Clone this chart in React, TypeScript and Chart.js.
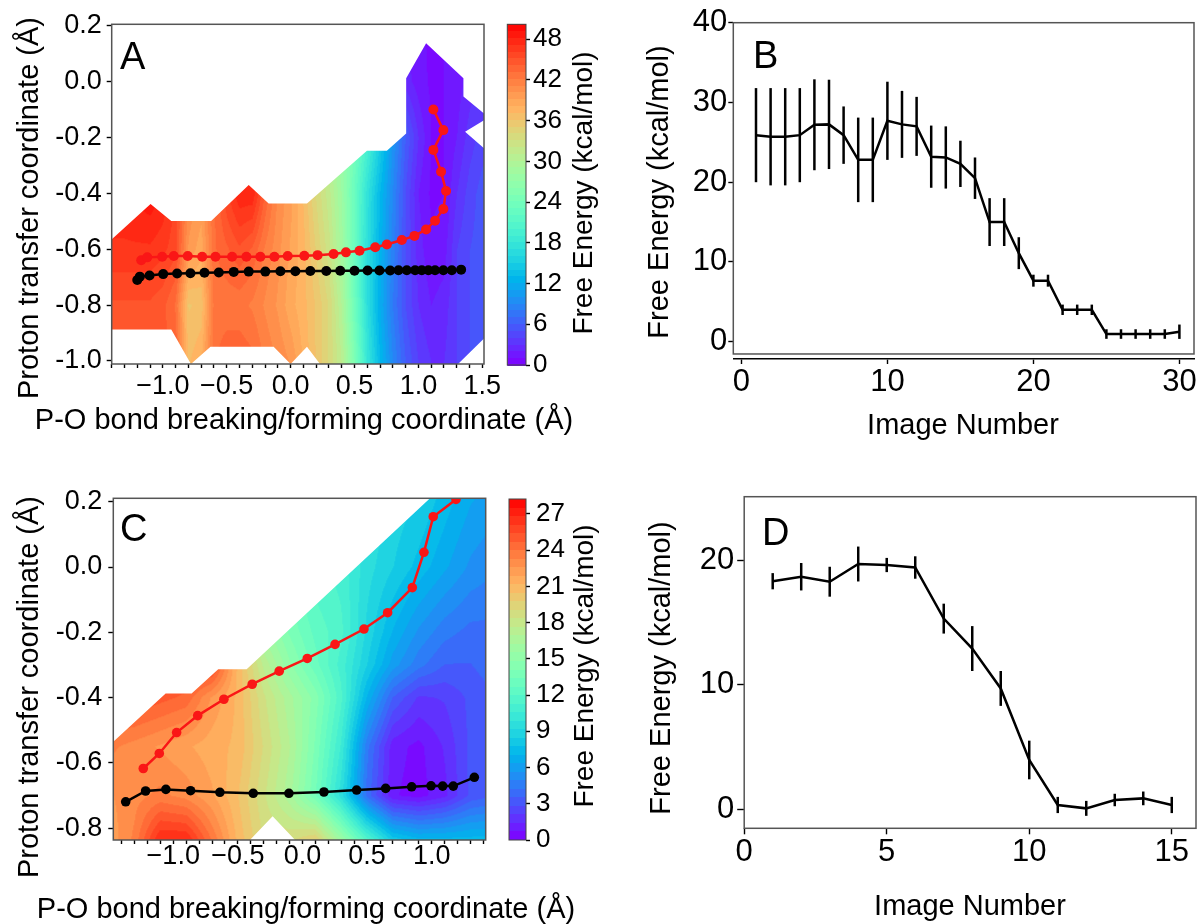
import React, { useEffect, useRef } from 'react';
import { Chart, registerables } from 'chart.js';
Chart.register(...registerables);

const W = 1200;
const H = 924;
const FONT = "'Liberation Sans', Arial, Helvetica, sans-serif";
const RED = 'rgb(250,22,22)';

// ---------------- Panel A data ----------------
const aRedX = [-1.169, -1.122, -1.005, -0.914, -0.805, -0.692, -0.588, -0.458, -0.346, -0.237, -0.127, -0.023, 0.107, 0.211, 0.336, 0.433, 0.539, 0.662, 0.753, 0.87, 0.969, 1.06, 1.13, 1.195, 1.216, 1.177, 1.117, 1.195, 1.117];
const aRedY = [-0.639, -0.629, -0.627, -0.624, -0.624, -0.627, -0.627, -0.627, -0.627, -0.627, -0.627, -0.624, -0.623, -0.621, -0.617, -0.611, -0.605, -0.593, -0.583, -0.567, -0.552, -0.529, -0.498, -0.456, -0.391, -0.322, -0.244, -0.173, -0.099];
const aBlackX = [-1.2, -1.18, -1.104, -0.997, -0.888, -0.784, -0.674, -0.562, -0.445, -0.328, -0.198, -0.08, 0.037, 0.154, 0.279, 0.388, 0.5, 0.602, 0.695, 0.779, 0.844, 0.909, 0.974, 1.026, 1.078, 1.13, 1.195, 1.261, 1.334];
const aBlackY = [-0.71, -0.698, -0.694, -0.689, -0.687, -0.686, -0.684, -0.683, -0.681, -0.68, -0.68, -0.679, -0.679, -0.678, -0.678, -0.677, -0.677, -0.676, -0.676, -0.676, -0.675, -0.675, -0.675, -0.675, -0.675, -0.675, -0.675, -0.675, -0.673];
const aGridX = [-1.4, -1.3, -1.2, -1.1, -1.0, -0.9, -0.8, -0.7, -0.6, -0.5, -0.4, -0.3, -0.2, -0.1, 0.0, 0.1, 0.2, 0.3, 0.4, 0.5, 0.6, 0.7, 0.8, 0.9, 1.0, 1.1, 1.2, 1.3, 1.4, 1.5];
const aGridY = [-1.0, -0.8, -0.6, -0.4, -0.2, 0.0, 0.2];
const aEnergyRowM10 = [45, 45, 45, 45, 44.5, 44, 37, 38, 43, 44, 44, 43.5, 42, 41, 40, 38, 36, 34, 31, 25, 18, 13, 9, 6, 4, 3, 3, 4, 5, 5.5];
const aEnergyRowM08 = [45, 45, 45, 45, 44.5, 43, 36, 36.5, 42.5, 42.5, 42.5, 42, 41, 40, 38.5, 37.5, 36, 34, 30, 23.5, 17, 12, 8, 5, 3, 2, 2.5, 4, 5, 5.5];
const aEnergyRowM06 = [47, 47, 47, 47, 46.5, 45.5, 40, 38.5, 43, 44, 45, 44, 42, 40.5, 39, 37.5, 35, 32.5, 28.5, 23, 17, 12.5, 8.5, 5, 2.5, 1.2, 1.5, 4, 5, 5.5];
const aEnergyRowM04 = [48, 48, 48.5, 49, 48, 46, 41, 40, 43, 46, 48, 48, 44, 41, 39.5, 37, 34, 31.5, 28, 23, 17.5, 13, 9, 5, 2, 0.8, 1, 3, 4.5, 5.5];
const aEnergyRowM02 = [48, 48, 48.5, 49, 48, 46, 41, 40, 43, 46, 48, 47, 43, 40, 38, 35, 32, 30, 27, 24, 20, 15, 10, 6, 3, 1, 1, 2, 3.5, 4.5];
const aEnergyRowP00 = [48, 48, 48.5, 49, 48, 46, 41, 40, 43, 46, 48, 47, 43, 40, 38, 35, 32, 30, 27, 24, 20, 15, 8, 2.5, 1.5, 0.8, 1, 1.5, 2.5, 3];
const aEnergyRowP02 = [48, 48, 48.5, 49, 48, 46, 41, 40, 43, 46, 48, 47, 43, 40, 38, 35, 32, 30, 27, 24, 20, 15, 8, 2, 1.2, 0.8, 1, 1.5, 2, 2.5];
const aEnergy = [aEnergyRowM10, aEnergyRowM08, aEnergyRowM06, aEnergyRowM04, aEnergyRowM02, aEnergyRowP00, aEnergyRowP02];
const aDomain = [[-1.45, -0.585], [-1.096, -0.438], [-0.934, -0.499], [-0.622, -0.499], [-0.328, -0.37], [-0.172, -0.436], [0.128, -0.436], [0.597, -0.247], [0.753, -0.247], [0.904, -0.185], [0.904, 0.0125], [1.06, 0.138], [1.352, 0.0125], [1.352, -0.053], [1.55, -0.127], [1.365, -0.179], [1.55, -0.253], [1.55, -0.903], [1.223, -1.05], [0.294, -1.05], [0.128, -0.949], [0.0, -1.011], [-0.133, -0.949], [-0.627, -0.949], [-0.78, -1.011], [-0.934, -0.887], [-1.45, -0.887]];
const aXTicks = [-1.4, -1.3, -1.2, -1.1, -1.0, -0.9, -0.8, -0.7, -0.6, -0.5, -0.4, -0.3, -0.2, -0.1, 0.0, 0.1, 0.2, 0.3, 0.4, 0.5, 0.6, 0.7, 0.8, 0.9, 1.0, 1.1, 1.2, 1.3, 1.4, 1.5];
const aYTicks = [-1.0, -0.8, -0.6, -0.4, -0.2, 0.0, 0.2];
const aBarTicks = [0, 6, 12, 18, 24, 30, 36, 42, 48];
const aVmax = 50.2;

// ---------------- Panel B data ----------------
const bImage = [1, 2, 3, 4, 5, 6, 7, 8, 9, 10, 11, 12, 13, 14, 15, 16, 17, 18, 19, 20, 21, 22, 23, 24, 25, 26, 27, 28, 29, 30];
const bEnergy = [25.9, 25.7, 25.7, 25.9, 27.2, 27.25, 25.9, 22.8, 22.8, 27.7, 27.25, 27.0, 23.2, 23.1, 22.3, 20.5, 15.0, 15.0, 11.1, 7.65, 7.65, 4.0, 4.0, 4.0, 0.96, 0.96, 0.96, 0.96, 0.96, 1.25];
const bError = [5.9, 6.1, 6.1, 5.9, 5.7, 5.6, 3.6, 5.3, 5.3, 4.9, 4.2, 3.7, 3.9, 3.9, 2.9, 2.6, 3.0, 3.0, 2.0, 0.75, 0.75, 0.65, 0.65, 0.65, 0.6, 0.6, 0.6, 0.6, 0.6, 0.9];
const bXTicks = [0, 10, 20, 30];
const bYTicks = [0, 10, 20, 30, 40];

// ---------------- Panel C data ----------------
const cRedX = [-1.232, -1.108, -0.974, -0.811, -0.608, -0.389, -0.18, 0.037, 0.252, 0.476, 0.659, 0.85, 0.94, 1.012, 1.188];
const cRedY = [-0.617, -0.571, -0.507, -0.455, -0.405, -0.359, -0.319, -0.28, -0.237, -0.19, -0.14, -0.063, 0.045, 0.154, 0.207];
const cBlackX = [-1.368, -1.214, -1.057, -0.866, -0.639, -0.381, -0.105, 0.166, 0.419, 0.644, 0.845, 0.995, 1.085, 1.167, 1.33];
const cBlackY = [-0.719, -0.686, -0.681, -0.685, -0.69, -0.693, -0.693, -0.689, -0.683, -0.678, -0.673, -0.67, -0.671, -0.671, -0.644];
const cGridX = [-1.5, -1.3, -1.1, -0.9, -0.7, -0.5, -0.3, -0.1, 0.1, 0.3, 0.5, 0.7, 0.9, 1.1, 1.3, 1.5];
const cGridY = [-0.84, -0.7, -0.55, -0.4, -0.3, -0.2, 0.0, 0.22];
const cEnergyRowM084 = [22, 23.5, 27, 27, 24, 21, 19, 19, 20, 16, 12, 8.5, 7.5, 7.5, 7.5, 7.5];
const cEnergyRowM070 = [22.5, 23, 23.5, 23, 22, 20.5, 18.5, 16.5, 13.5, 9.5, 4, 0.8, 0.4, 1.2, 3, 3.5];
const cEnergyRowM055 = [23.5, 23, 22.5, 22, 21.5, 21, 19, 17, 14, 10.5, 4.5, 1.0, 0.5, 1.5, 3, 3.5];
const cEnergyRowM040 = [25.5, 25.5, 25, 24.5, 22.5, 21, 18.5, 16.5, 14.5, 11.5, 7, 3.5, 2, 2.2, 3, 3.5];
const cEnergyRowM030 = [26, 26, 26, 26, 26, 21, 17.5, 15, 13, 11, 8.5, 6, 4.5, 3.5, 3.5, 4];
const cEnergyRowM020 = [26, 26, 26, 26, 26, 20, 16, 14, 12.5, 11.5, 9, 7, 5.5, 4.5, 4, 4];
const cEnergyRowP000 = [26, 26, 26, 26, 26, 20, 16, 13, 11.5, 11, 9.5, 8.5, 7.5, 6.5, 5.5, 5];
const cEnergyRowP022 = [26, 26, 26, 26, 26, 20, 16, 13, 11.5, 11, 10, 9, 8.5, 7.5, 6.5, 6];
const cEnergy = [cEnergyRowM084, cEnergyRowM070, cEnergyRowM055, cEnergyRowM040, cEnergyRowM030, cEnergyRowM020, cEnergyRowP000, cEnergyRowP022];
const cDomain = [[-1.5, -0.548], [-1.059, -0.387], [-0.858, -0.387], [-0.652, -0.313], [-0.432, -0.313], [1.094, 0.25], [1.5, 0.25], [1.5, -0.85], [-0.024, -0.85], [-0.231, -0.763], [-0.44, -0.85], [-1.5, -0.85]];
const cXTicks = [-1.4, -1.3, -1.2, -1.1, -1.0, -0.9, -0.8, -0.7, -0.6, -0.5, -0.4, -0.3, -0.2, -0.1, 0.0, 0.1, 0.2, 0.3, 0.4, 0.5, 0.6, 0.7, 0.8, 0.9, 1.0, 1.1, 1.2, 1.3, 1.4];
const cYTicks = [-0.8, -0.6, -0.4, -0.2, 0.0, 0.2];
const cBarTicks = [0, 3, 6, 9, 12, 15, 18, 21, 24, 27];
const cVmax = 28.24;

// ---------------- Panel D data ----------------
const dImage = [1, 2, 3, 4, 5, 6, 7, 8, 9, 10, 11, 12, 13, 14, 15];
const dEnergy = [18.3, 18.66, 18.26, 19.68, 19.6, 19.4, 15.3, 12.9, 9.7, 3.96, 0.35, 0.08, 0.75, 0.88, 0.35];
const dError = [0.65, 1.1, 1.2, 1.4, 0.57, 0.9, 1.2, 1.8, 1.4, 1.55, 0.65, 0.6, 0.5, 0.55, 0.65];
const dXTicks = [0, 5, 10, 15];
const dYTicks = [0, 10, 20];

// ---------------- helpers ----------------
const zip = (xs: number[], ys: number[]) => xs.map((x, i) => ({ x, y: ys[i] }));

function rainbow(f: number): number[] {
  const t = Math.max(0, Math.min(1, f));
  const r = Math.min(1, Math.abs(2 * t - 0.5));
  const g = Math.sin(Math.PI * t);
  const b = Math.cos((Math.PI * t) / 2);
  return [Math.round(r * 255), Math.round(g * 255), Math.round(b * 255)];
}

function idx(arr: number[], v: number) {
  let i = 0;
  while (i < arr.length - 2 && v > arr[i + 1]) i++;
  return i;
}

function sampleGrid(xs: number[], ys: number[], grid: number[][], x: number, y: number) {
  const i = idx(xs, x);
  const j = idx(ys, y);
  const tx = Math.max(0, Math.min(1, (x - xs[i]) / (xs[i + 1] - xs[i])));
  const ty = Math.max(0, Math.min(1, (y - ys[j]) / (ys[j + 1] - ys[j])));
  const a = grid[j][i] * (1 - tx) + grid[j][i + 1] * tx;
  const b = grid[j + 1][i] * (1 - tx) + grid[j + 1][i + 1] * tx;
  return a * (1 - ty) + b * ty;
}

function levelColor(v: number, vmax: number, levels: number) {
  const step = vmax / levels;
  const q = Math.max(0, Math.min(levels - 1, Math.floor(v / step)));
  return rainbow((q + 0.5) / levels);
}

function fieldPlugin(xs: number[], ys: number[], grid: number[][], domain: number[][], vmax: number, levels: number) {
  return {
    id: 'field',
    beforeDatasetsDraw(chart: any) {
      const { ctx, chartArea: ca, scales } = chart;
      const sx = scales.x;
      const sy = scales.y;
      const w = Math.ceil(ca.right - ca.left);
      const h = Math.ceil(ca.bottom - ca.top);
      const off = document.createElement('canvas');
      off.width = w;
      off.height = h;
      const octx = off.getContext('2d')!;
      const img = octx.createImageData(w, h);
      for (let py = 0; py < h; py++) {
        const yv = sy.getValueForPixel(ca.top + py + 0.5);
        for (let px = 0; px < w; px++) {
          const xv = sx.getValueForPixel(ca.left + px + 0.5);
          const v = sampleGrid(xs, ys, grid, xv, yv);
          const c = levelColor(v, vmax, levels);
          const k = (py * w + px) * 4;
          img.data[k] = c[0];
          img.data[k + 1] = c[1];
          img.data[k + 2] = c[2];
          img.data[k + 3] = 255;
        }
      }
      octx.putImageData(img, 0, 0);
      ctx.save();
      ctx.beginPath();
      ctx.rect(ca.left, ca.top, ca.right - ca.left, ca.bottom - ca.top);
      ctx.clip();
      ctx.beginPath();
      domain.forEach((p, k) => {
        const X = sx.getPixelForValue(p[0]);
        const Y = sy.getPixelForValue(p[1]);
        if (k === 0) ctx.moveTo(X, Y);
        else ctx.lineTo(X, Y);
      });
      ctx.closePath();
      ctx.clip();
      ctx.drawImage(off, ca.left, ca.top);
      ctx.restore();
    },
  };
}

function barPlugin(vmax: number, levels: number) {
  return {
    id: 'bar',
    beforeDatasetsDraw(chart: any) {
      const { ctx, chartArea: ca, scales } = chart;
      const sy = scales.y;
      ctx.save();
      for (let py = Math.floor(ca.top); py < Math.ceil(ca.bottom); py++) {
        const v = sy.getValueForPixel(py + 0.5);
        const c = levelColor(v, vmax, levels);
        ctx.fillStyle = `rgb(${c[0]},${c[1]},${c[2]})`;
        ctx.fillRect(ca.left, py, ca.right - ca.left, 1);
      }
      ctx.strokeStyle = '#444';
      ctx.lineWidth = 1;
      ctx.strokeRect(ca.left, ca.top, ca.right - ca.left, ca.bottom - ca.top);
      ctx.restore();
    },
  };
}

function framePlugin(bottomValue?: number) {
  return {
    id: 'frame',
    afterDraw(chart: any) {
      const { ctx, chartArea: ca, scales } = chart;
      const bottom = bottomValue === undefined ? ca.bottom : scales.y.getPixelForValue(bottomValue);
      ctx.save();
      ctx.strokeStyle = '#555';
      ctx.lineWidth = 1.5;
      ctx.strokeRect(ca.left, ca.top, ca.right - ca.left, bottom - ca.top);
      ctx.restore();
    },
  };
}

function errorBarPlugin(xs: number[], ys: number[], errs: number[]) {
  return {
    id: 'errbars',
    afterDatasetsDraw(chart: any) {
      const { ctx, scales } = chart;
      ctx.save();
      ctx.strokeStyle = '#000';
      ctx.lineWidth = 2.5;
      xs.forEach((xv, i) => {
        const X = scales.x.getPixelForValue(xv);
        ctx.beginPath();
        ctx.moveTo(X, scales.y.getPixelForValue(ys[i] - errs[i]));
        ctx.lineTo(X, scales.y.getPixelForValue(ys[i] + errs[i]));
        ctx.stroke();
      });
      ctx.restore();
    },
  };
}

type Txt = { t: string; x: number; y: number; size: number; rot?: boolean; align?: string };
function textPlugin(items: Txt[]) {
  return {
    id: 'texts',
    afterDraw(chart: any) {
      const ctx = chart.ctx;
      items.forEach((it) => {
        ctx.save();
        ctx.fillStyle = '#000';
        ctx.font = `${it.size}px ${FONT}`;
        ctx.textAlign = it.align || 'center';
        ctx.textBaseline = 'alphabetic';
        ctx.translate(it.x, it.y);
        if (it.rot) ctx.rotate(-Math.PI / 2);
        ctx.fillText(it.t, 0, 0);
        ctx.restore();
      });
    },
  };
}

const fmtCoordX = (v: number) => {
  const r = Math.round(v * 10) / 10;
  if (Math.abs(r * 2 - Math.round(r * 2)) > 1e-6) return '';
  if (r === 0) return '0.0';
  return (r < 0 ? '\u2212' : '') + Math.abs(r).toFixed(1);
};
const fmtCoordY = (v: number) => {
  const r = Math.round(v * 10) / 10;
  return r === 0 ? '0.0' : r.toFixed(1);
};
const fmtInt = (v: number) => String(Math.round(v));

function axis(o: any) {
  return {
    type: 'linear',
    display: true,
    position: o.position,
    min: o.min,
    max: o.max,
    afterBuildTicks: (s: any) => {
      s.ticks = o.ticks.map((v: number) => ({ value: v }));
    },
    afterFit: (s: any) => {
      if (o.position === 'bottom') s.height = o.size;
      else s.width = o.size;
      s.paddingLeft = 0;
      s.paddingRight = 0;
      s.paddingTop = 0;
      s.paddingBottom = 0;
    },
    grid: {
      display: true,
      drawOnChartArea: false,
      drawTicks: true,
      tickLength: o.tickLength,
      tickColor: '#000',
      tickWidth: 1.4,
      color: 'rgba(0,0,0,0)',
    },
    border: { display: !!o.border, color: '#000', width: 1.6 },
    ticks: {
      autoSkip: false,
      maxRotation: 0,
      minRotation: 0,
      includeBounds: false,
      padding: o.padding,
      color: '#000',
      font: { family: FONT, size: o.fontSize },
      callback: (v: number) => o.fmt(v),
    },
    title: { display: false },
  };
}

function baseOptions(padding: any, scales: any) {
  return {
    animation: false,
    responsive: false,
    maintainAspectRatio: false,
    devicePixelRatio: 1,
    events: [],
    layout: { padding },
    plugins: { legend: { display: false }, tooltip: { enabled: false } },
    scales,
  };
}

function pathDataset(xs: number[], ys: number[], color: string, r: number) {
  return {
    data: zip(xs, ys),
    showLine: true,
    borderColor: color,
    backgroundColor: color,
    borderWidth: 2.5,
    pointRadius: r,
    pointHoverRadius: r,
    pointBorderWidth: 0,
  };
}

// frames (chart-area placement on the page)
const FA = { l: 111.7, t: 24.3, r: 484, b: 364 };
const FAbar = { l: 507.3, t: 24.3, r: 526, b: 365 };
const FB = { l: 733.3, t: 22.7, r: 1194, b: 359 };
const FC = { l: 113.3, t: 498.3, r: 485.7, b: 840 };
const FCbar = { l: 509, t: 499, r: 526, b: 840 };
const FD = { l: 744.2, t: 496.7, r: 1196, b: 828.3 };
const YW = 100;
const XH = 70;
const BW = 70;

function pad(f: any) {
  return { left: f.l - YW, top: f.t, right: W - f.r, bottom: H - f.b - XH };
}
function barPad(f: any) {
  return { left: f.l, top: f.t, right: W - f.r - BW, bottom: H - f.b };
}

function configA() {
  return {
    type: 'scatter',
    data: { datasets: [pathDataset(aRedX, aRedY, RED, 5), pathDataset(aBlackX, aBlackY, '#000', 5)] },
    options: baseOptions(pad(FA), {
      x: axis({ position: 'bottom', min: -1.4, max: 1.513, ticks: aXTicks, fmt: fmtCoordX, size: XH, tickLength: 4, padding: 2, fontSize: 27 }),
      y: axis({ position: 'left', min: -1.011, max: 0.206, ticks: aYTicks, fmt: fmtCoordY, size: YW, tickLength: 5, padding: 5, fontSize: 27 }),
    }),
    plugins: [
      fieldPlugin(aGridX, aGridY, aEnergy, aDomain, aVmax, 50),
      framePlugin(),
      textPlugin([
        { t: 'A', x: 120, y: 68.5, size: 38, align: 'left' },
        { t: 'Proton transfer coordinate (\u00C5)', x: 38, y: 208, size: 29, rot: true },
        { t: 'P-O bond breaking/forming coordinate (\u00C5)', x: 304, y: 429, size: 29 },
      ]),
    ],
  };
}

function configBar(f: any, vmax: number, ticks: number[], levels: number, titleX: number, titleY: number, pad2: number) {
  return {
    type: 'scatter',
    data: { datasets: [] },
    options: baseOptions(barPad(f), {
      x: { type: 'linear', display: false, min: 0, max: 1 },
      y: axis({ position: 'right', min: 0, max: vmax, ticks, fmt: fmtInt, size: BW, tickLength: 4, padding: pad2, fontSize: 26 }),
    }),
    plugins: [barPlugin(vmax, levels), textPlugin([{ t: 'Free Energy (kcal/mol)', x: titleX, y: titleY, size: 28, rot: true }])],
  };
}

function configB() {
  return {
    type: 'scatter',
    data: { datasets: [{ ...pathDataset(bImage, bEnergy, '#000', 0) }] },
    options: baseOptions(pad(FB), {
      x: axis({ position: 'bottom', min: -0.555, max: 31.0, ticks: bXTicks, fmt: fmtInt, size: XH, tickLength: 5, padding: 0, fontSize: 31, border: true }),
      y: axis({ position: 'left', min: -2.17, max: 40, ticks: bYTicks, fmt: fmtInt, size: YW, tickLength: 5, padding: 1, fontSize: 31 }),
    }),
    plugins: [
      errorBarPlugin(bImage, bEnergy, bError),
      framePlugin(-1.54),
      textPlugin([
        { t: 'B', x: 753, y: 68.3, size: 38, align: 'left' },
        { t: 'Free Energy (kcal/mol)', x: 668, y: 192, size: 29, rot: true },
        { t: 'Image Number', x: 963, y: 434, size: 29 },
      ]),
    ],
  };
}

function configC() {
  return {
    type: 'scatter',
    data: { datasets: [pathDataset(cRedX, cRedY, RED, 4.8), pathDataset(cBlackX, cBlackY, '#000', 4.8)] },
    options: baseOptions(pad(FC), {
      x: axis({ position: 'bottom', min: -1.464, max: 1.418, ticks: cXTicks, fmt: fmtCoordX, size: XH, tickLength: 4, padding: -4, fontSize: 27 }),
      y: axis({ position: 'left', min: -0.836, max: 0.2104, ticks: cYTicks, fmt: fmtCoordY, size: YW, tickLength: 5, padding: 6, fontSize: 27 }),
    }),
    plugins: [
      fieldPlugin(cGridX, cGridY, cEnergy, cDomain, cVmax, 40),
      framePlugin(),
      textPlugin([
        { t: 'C', x: 120, y: 541, size: 38, align: 'left' },
        { t: 'Proton transfer coordinate (\u00C5)', x: 37.5, y: 687, size: 29, rot: true },
        { t: 'P-O bond breaking/forming coordinate (\u00C5)', x: 306, y: 918, size: 29 },
      ]),
    ],
  };
}

function configD() {
  return {
    type: 'scatter',
    data: { datasets: [{ ...pathDataset(dImage, dEnergy, '#000', 0) }] },
    options: baseOptions(pad(FD), {
      x: axis({ position: 'bottom', min: 0, max: 15.85, ticks: dXTicks, fmt: fmtInt, size: XH, tickLength: 6, padding: 0, fontSize: 31 }),
      y: axis({ position: 'left', min: -1.52, max: 25.08, ticks: dYTicks, fmt: fmtInt, size: YW, tickLength: 7, padding: 3, fontSize: 31 }),
    }),
    plugins: [
      errorBarPlugin(dImage, dEnergy, dError),
      framePlugin(),
      textPlugin([
        { t: 'D', x: 762, y: 545, size: 38, align: 'left' },
        { t: 'Free Energy (kcal/mol)', x: 670, y: 668, size: 29, rot: true },
        { t: 'Image Number', x: 970, y: 915, size: 29 },
      ]),
    ],
  };
}

export default function App() {
  const refs = useRef<(HTMLCanvasElement | null)[]>([]);
  useEffect(() => {
    const configs = [
      configA(),
      configBar(FAbar, aVmax, aBarTicks, 50, 592, 193, 3),
      configB(),
      configC(),
      configBar(FCbar, cVmax, cBarTicks, 40, 593, 666, 6),
      configD(),
    ];
    const charts = configs.map((cfg, i) => new Chart(refs.current[i] as HTMLCanvasElement, cfg as any));
    return () => charts.forEach((c) => c.destroy());
  }, []);
  return (
    <div style={{ position: 'absolute', left: 0, top: 0, width: W, height: H, background: '#fff', overflow: 'hidden' }}>
      {[0, 1, 2, 3, 4, 5].map((i) => (
        <canvas
          key={i}
          ref={(el) => {
            refs.current[i] = el;
          }}
          width={W}
          height={H}
          style={{ position: 'absolute', left: 0, top: 0, width: W, height: H }}
        />
      ))}
    </div>
  );
}
